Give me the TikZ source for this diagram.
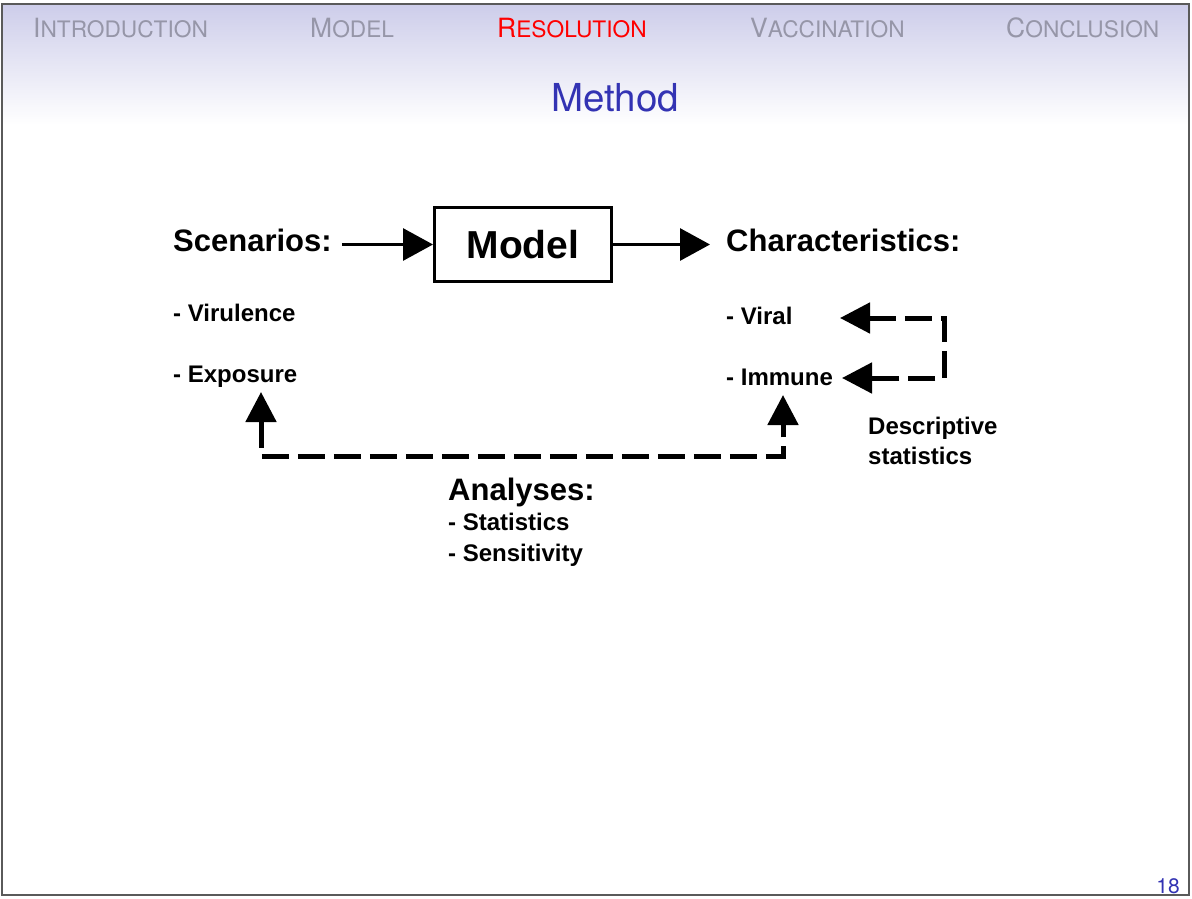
\documentclass[tikz,border=0pt]{standalone}
\usepackage{fontspec}
\setmainfont{Liberation Sans}
\newfontfamily\heros{TeX Gyre Heros}
\usetikzlibrary{arrows.meta}
\definecolor{navgray}{RGB}{150,150,168}
\definecolor{navred}{RGB}{255,0,0}
\definecolor{struct}{RGB}{51,51,179}
\definecolor{hdr}{RGB}{205,205,234}
\definecolor{frm}{RGB}{90,90,90}
\newcommand{\navsc}[2]{{\fontsize{26.5}{26.5}\selectfont #1}{\fontsize{22.7}{22.7}\selectfont #2}}
\begin{document}
\begin{tikzpicture}[x=1pt,y=-1pt,
 txt/.style={inner sep=0pt, anchor=base west, font=\bfseries\fontsize{24}{24}\selectfont},
 big/.style={inner sep=0pt, anchor=base west, font=\bfseries\fontsize{31}{31}\selectfont},
 nav/.style={inner sep=0pt, anchor=base west, font=\heros},
 solidarr/.style={line width=3pt, -{Triangle[length=30pt,width=32pt]}},
 dasharr/.style={line width=5pt, dash pattern=on 27pt off 9pt, {Triangle[length=30pt,width=30pt]}-{Triangle[length=30pt,width=30pt]}}
]
\useasboundingbox (0,0) rectangle (1192,899);
\fill[white] (0,0) rectangle (1192,899);
\shade[top color=hdr, bottom color=white] (2,4) rectangle (1189,125);
\draw[frm, line width=1.5pt] (2,4) rectangle (1189,895);

% navigation
\node[nav, text=navgray] (n1) at (33,37.5) {\navsc{I}{NTRODUCTION}};
\node[nav, text=navgray] (n2) at (310,37.5) {\navsc{M}{ODEL}};
\node[nav, text=navred] (n3) at (497,37.5) {\navsc{R}{ESOLUTION}};
\node[nav, text=navgray] (n4) at (750,37.5) {\navsc{V}{ACCINATION}};
\node[nav, text=navgray] (n5) at (1006,37.5) {\navsc{C}{ONCLUSION}};

% title
\node[inner sep=0pt, anchor=base, font=\heros\fontsize{38.5}{38.5}\selectfont, text=struct] (title) at (615,111) {Method};

% diagram
\node[draw, line width=3pt, minimum width=177pt, minimum height=74pt, inner sep=0pt, font=\bfseries\fontsize{39}{39}\selectfont] (model) at (523,244.5) {Model};
\node[big] (scen) at (173,251) {Scenarios:};
\node[big] (char) at (726,251) {Characteristics:};
\node[txt] (vir) at (173,321) {- Virulence};
\node[txt] (exp) at (173,382) {- Exposure};
\node[txt] (viral) at (726,324) {- Viral};
\node[txt] (imm) at (726,385) {- Immune};
\node[txt] (desc1) at (868,434) {Descriptive};
\node[txt] (desc2) at (868,464) {statistics};
\node[big] (anal) at (448,500) {Analyses:};
\node[txt] (stat) at (448,530) {- Statistics};
\node[txt] (sens) at (448,561) {- Sensitivity};

\draw[solidarr, shorten <=10pt] (scen.east |- model.west) -- (model.west);
\draw[solidarr, shorten >=16pt] (model.east) -- (char.west |- model.east);

\coordinate (vtip) at (840,318);
\coordinate (rc1) at (944,318);
\coordinate (rc2) at (944,378);
\coordinate (itip) at (842,378);
\draw[dasharr] (vtip) -- (rc1) -- (rc2) -- (itip);

\coordinate (etip) at (261,392);
\coordinate (b1) at (261,456);
\coordinate (b2) at (783,456);
\coordinate (mtip) at (783,395);
\draw[dasharr] (etip) -- (b1) -- (b2) -- (mtip);

% page number
\node[anchor=base east, inner sep=0pt, font=\heros\fontsize{21}{21}\selectfont, text=struct] (pg) at (1180,893) {18};
\end{tikzpicture}
\end{document}
